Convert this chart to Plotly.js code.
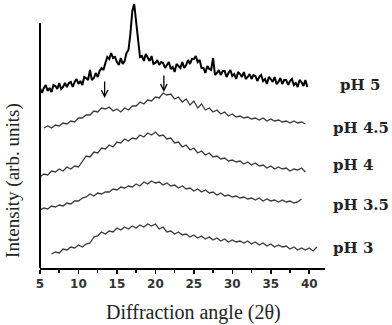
<!DOCTYPE html>
<html>
<head>
<meta charset="utf-8">
<script src="https://cdn.plot.ly/plotly-3.0.1.min.js"></script>
<style>
  body { margin: 0; background: #fff; }
  #grafico { width: 392px; height: 325px; }
</style>
</head>
<body>
<div id="grafico"></div>
<script>
// series names, top to bottom
const seriesNames = ['pH 5', 'pH 4.5', 'pH 4', 'pH 3.5', 'pH 3'];

// pH 5: 2θ from 5 every 0.25
const ph5 = [
  180, 175, 180, 183, 177, 180, 176, 183, 182, 179, 185, 179, 181, 185, 181, 185,
  186, 181, 186, 189, 184, 187, 183, 191, 190, 188, 198, 188, 190, 195, 191, 197,
  200, 198, 205, 211, 209, 215, 210, 211, 206, 203, 210, 204, 207, 215, 218, 234,
  257, 264, 246, 229, 211, 212, 207, 214, 211, 207, 212, 204, 205, 208, 203, 206,
  205, 200, 203, 206, 199, 201, 196, 204, 202, 200, 206, 200, 203, 208, 204, 209,
  209, 212, 206, 208, 200, 200, 195, 202, 199, 198, 210, 193, 195, 198, 193, 197,
  197, 191, 195, 198, 192, 194, 189, 196, 194, 191, 196, 189, 191, 194, 189, 193,
  192, 187, 191, 193, 187, 189, 184, 191, 189, 186, 191, 184, 186, 190, 184, 188,
  188, 183, 187, 189, 183, 185, 181, 188, 186, 182, 188, 181
];

// pH 4.5: 2θ from 5.5 every 0.5
const ph45 = [
  140, 142, 140, 143, 142, 145, 144, 147, 146, 150, 150, 153, 153, 157, 156, 160,
  159, 161, 157, 159, 156, 160, 158, 162, 162, 166, 164, 168, 167, 171, 170, 175,
  173, 174, 169, 171, 166, 169, 163, 167, 160, 164, 158, 160, 156, 158, 154, 156,
  152, 154, 151, 152, 150, 151, 149, 150, 148, 150, 147, 149, 147, 148, 146, 147,
  145, 147, 145, 146, 144
];

// pH 4: 2θ from 5 every 0.5
const ph4 = [
  91, 94, 93, 97, 96, 99, 97, 101, 99, 102, 101, 107, 112, 111, 116, 115,
  120, 119, 123, 121, 126, 125, 129, 127, 130, 129, 133, 131, 135, 133, 136, 132,
  133, 129, 130, 125, 126, 121, 123, 118, 120, 115, 117, 113, 115, 111, 112, 109,
  110, 107, 108, 106, 107, 104, 106, 103, 105, 102, 103, 100, 102, 99, 101, 99,
  100, 97, 99, 98, 100, 96
];

// pH 3.5: 2θ from 5 every 0.5
const ph35 = [
  58, 60, 59, 62, 61, 63, 62, 65, 64, 67, 67, 70, 71, 74, 72, 75,
  74, 76, 76, 79, 78, 81, 80, 82, 81, 84, 82, 86, 84, 87, 85, 86,
  83, 85, 82, 83, 80, 82, 79, 80, 77, 79, 76, 78, 75, 76, 73, 75,
  72, 73, 71, 72, 70, 71, 69, 70, 68, 70, 67, 69, 67, 68, 66, 68,
  66, 67, 65, 66, 69
];

// pH 3: 2θ from 6.5 every 0.5
const ph3 = [
  14, 16, 15, 19, 18, 21, 20, 23, 21, 24, 25, 31, 32, 36, 34, 37,
  36, 40, 38, 41, 39, 42, 40, 43, 41, 44, 42, 44, 39, 41, 36, 37,
  34, 36, 33, 34, 31, 33, 30, 32, 29, 31, 28, 30, 27, 29, 26, 28,
  26, 27, 25, 27, 24, 26, 23, 25, 22, 24, 21, 23, 21, 22, 19, 21,
  18, 20, 18, 20, 17, 21
];

// arrows on pH 4.5 (2θ of the marked humps)
const arrowAngles = [13.4, 21.1];
const arrowTips = [170, 176];

const traces = [
  { y: ph5, x0: 5, dx: 0.25, color: '#000', width: 2 },
  { y: ph45, x0: 5.5, dx: 0.5, color: '#3a3a3a', width: 1.3 },
  { y: ph4, x0: 5, dx: 0.5, color: '#3a3a3a', width: 1.3 },
  { y: ph35, x0: 5, dx: 0.5, color: '#3a3a3a', width: 1.3 },
  { y: ph3, x0: 6.5, dx: 0.5, color: '#3a3a3a', width: 1.3 }
].map((s, i) => ({
  type: 'scatter', mode: 'lines', name: seriesNames[i],
  y: s.y, x0: s.x0, dx: s.dx,
  line: { color: s.color, width: s.width },
  hoverinfo: 'skip'
}));

const labelX = [1.046, 1.021, 1.021, 1.021, 1.021];
const labelY = [183, 140, 103, 63, 20];

const annotations = seriesNames.map((n, i) => ({
  text: n, xref: 'paper', yref: 'y', x: labelX[i], y: labelY[i],
  xanchor: 'left', yanchor: 'middle', showarrow: false,
  font: { family: 'DejaVu Serif, serif', size: 15, weight: 'bold', color: '#222' }
}));

arrowAngles.forEach((a, i) => {
  annotations.push({
    text: '', x: a, y: arrowTips[i], xref: 'x', yref: 'y',
    ax: a, ay: arrowTips[i] + 18, axref: 'x', ayref: 'y',
    showarrow: true, arrowhead: 5, arrowsize: 1, arrowwidth: 1.3, arrowcolor: '#000'
  });
});

annotations.push({
  text: 'Diffraction angle (2θ)', xref: 'paper', yref: 'paper', x: 0.537, y: -0.169,
  xanchor: 'center', yanchor: 'middle', showarrow: false,
  font: { family: 'Liberation Serif, serif', size: 20, color: '#222' }
});
annotations.push({
  text: 'Intensity (arb. units)', xref: 'paper', yref: 'paper', x: -0.095, y: 0.331,
  xanchor: 'center', yanchor: 'middle', textangle: -90, showarrow: false,
  font: { family: 'Liberation Serif, serif', size: 19, color: '#222' }
});

const layout = {
  width: 392, height: 325,
  margin: { l: 40, r: 67, t: 2, b: 57 },
  paper_bgcolor: '#fff', plot_bgcolor: '#fff',
  showlegend: false,
  xaxis: {
    range: [5, 42.05], tick0: 5, dtick: 5,
    showgrid: false, zeroline: false,
    showline: true, linecolor: '#000', linewidth: 2,
    ticks: 'outside', ticklen: 4, tickwidth: 1.5, tickcolor: '#000',
    minor: { dtick: 2.5, ticks: 'outside', ticklen: 3, tickwidth: 1.5, tickcolor: '#000' },
    tickfont: { family: 'DejaVu Sans, sans-serif', size: 12, weight: 'bold', color: '#333' }
  },
  yaxis: {
    range: [0, 266], showgrid: false, zeroline: false,
    showline: false, showticklabels: false, ticks: ''
  },
  shapes: [{
    type: 'line', xref: 'paper', yref: 'y', x0: 0, x1: 0, y0: 0, y1: 245,
    line: { color: '#000', width: 2 }
  }],
  annotations
};

Plotly.newPlot('grafico', traces, layout, { staticPlot: true });
</script>
</body>
</html>
